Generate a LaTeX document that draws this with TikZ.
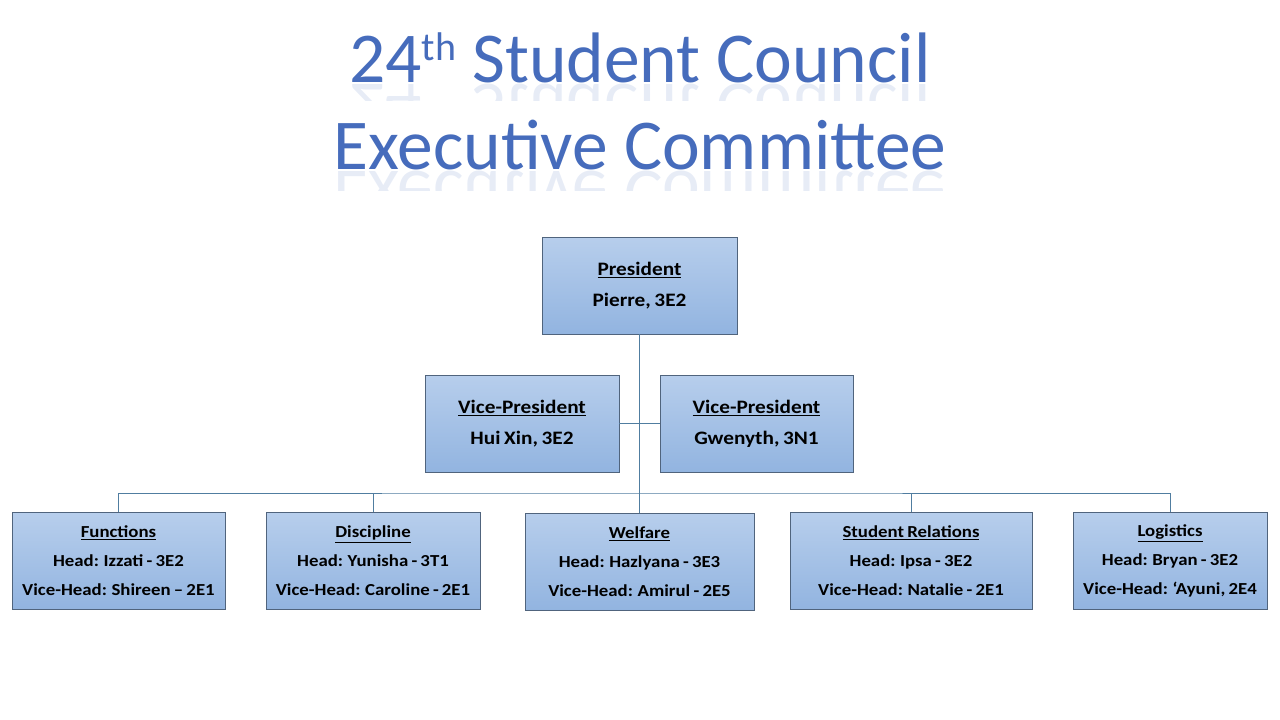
\documentclass[tikz,border=0pt]{standalone}
\usepackage{fontspec}
\setmainfont{Carlito}
\newfontfamily\boxfont[FakeStretch=1.12, WordSpace=0.75, Ligatures=TeX]{Carlito}
\usetikzlibrary{calc}
\definecolor{titleblue}{RGB}{70,108,188}
\definecolor{boxtop}{RGB}{183,206,236}
\definecolor{boxbot}{RGB}{146,180,224}
\definecolor{boxline}{RGB}{80,100,125}
\definecolor{conn}{RGB}{80,125,160}
\tikzset{
  orgbox/.style={draw=boxline, line width=0.6pt, top color=boxtop, bottom color=boxbot,
    align=center, inner sep=0pt, text=black},
  bigbox/.style={orgbox, minimum width=195pt, minimum height=97pt,
    font=\boxfont\bfseries\fontsize{19}{31}\selectfont},
  smallbox/.style={orgbox, minimum height=97pt,
    font=\boxfont\bfseries\fontsize{16.8}{29}\selectfont},
  link/.style={draw=conn, line width=0.9pt},
  titletext/.style={font=\fontsize{71.5}{80}\selectfont, text=titleblue, anchor=base, inner sep=0pt}
}
\newcommand{\titlesup}{\raisebox{22pt}{\fontsize{40}{40}\selectfont th}}
\begin{document}
\begin{tikzpicture}[x=1pt,y=-1pt]
\useasboundingbox (0,0) rectangle (1280,720);
% title
\node[titletext] (t1) at (640,82) {24\titlesup{} Student Council};
\node[titletext] (t2) at (640,169) {Executive Committee};
% reflections
\begin{scope}
\clip (300,83) rectangle (980,100);
\node[titletext, yscale=-1, opacity=0.13] at (640,84) {24\titlesup{} Student Council};
\end{scope}
\begin{scope}
\clip (300,170) rectangle (980,190);
\node[titletext, yscale=-1, opacity=0.13] at (640,171) {Executive Committee};
\end{scope}
% boxes
\node[bigbox] (pres) at (639.5,285.5) {\underline{President}\\Pierre, 3E2};
\node[bigbox, minimum width=194pt] (vpl) at (522,423.5) {\underline{Vice-President}\\Hui Xin, 3E2};
\node[bigbox, minimum width=193pt] (vpr) at (756.5,423.5) {\underline{Vice-President}\\Gwenyth, 3N1};
\node[smallbox, minimum width=213pt] (fun) at (118.5,561) {\underline{Functions}\\Head: Izzati - 3E2\\Vice-Head: Shireen – 2E1};
\node[smallbox, minimum width=214pt] (dis) at (373,561) {\underline{Discipline}\\Head: Yunisha - 3T1\\Vice-Head: Caroline - 2E1};
\node[smallbox, minimum width=229pt] (wel) at (639.5,561.5) {\underline{Welfare}\\Head: Hazlyana - 3E3\\Vice-Head: Amirul - 2E5};
\node[smallbox, minimum width=242pt] (stu) at (911,561) {\underline{Student Relations}\\Head: Ipsa - 3E2\\Vice-Head: Natalie - 2E1};
\node[smallbox, minimum width=194pt] (log) at (1170,561) {\underline{Logistics}\\Head: Bryan - 3E2\\Vice-Head: ‘Ayuni, 2E4};
% connectors
\coordinate (bus) at (640,493);
\draw[link] (pres.south) -- (wel.north);
\draw[link] (vpl.east) -- (vpr.west);
\draw[link] (fun.north) |- (bus) -| (log.north);
\draw[link] (dis.north) -- (dis.north |- bus);
\draw[link] (stu.north) -- (stu.north |- bus);
\end{tikzpicture}
\end{document}
